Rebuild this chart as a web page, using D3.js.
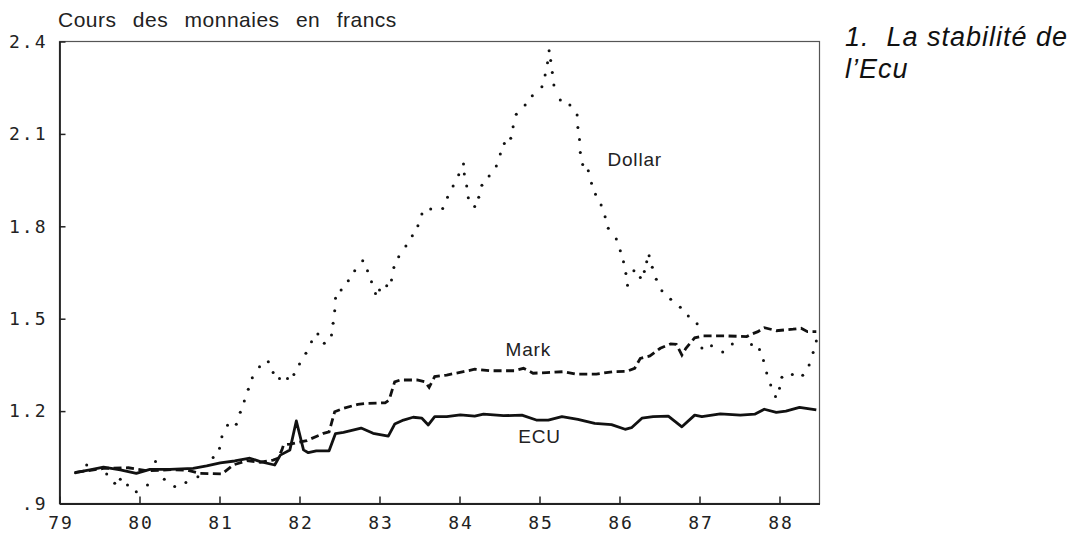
<!DOCTYPE html>
<html>
<head>
<meta charset="utf-8">
<script src="https://cdn.jsdelivr.net/npm/d3@7"></script>
<style>
  body { margin: 0; background: #fff; }
  svg { display: block; }
</style>
</head>
<body>
<div id="chart"></div>
<script>
// year (decimal) and rate in francs
const ecu = [
  [79.19, 1.0], [79.38, 1.009], [79.55, 1.018], [79.76, 1.009], [79.96, 0.998],
  [80.13, 1.011], [80.38, 1.011], [80.67, 1.014], [80.84, 1.022], [81.01, 1.032],
  [81.19, 1.038], [81.38, 1.047], [81.51, 1.036], [81.69, 1.025], [81.76, 1.057],
  [81.88, 1.074], [81.96, 1.168], [82.05, 1.074], [82.11, 1.065], [82.21, 1.071],
  [82.37, 1.071], [82.45, 1.127], [82.55, 1.131], [82.77, 1.145], [82.92, 1.128],
  [83.11, 1.119], [83.19, 1.158], [83.3, 1.171], [83.42, 1.18], [83.53, 1.177],
  [83.61, 1.155], [83.69, 1.182], [83.84, 1.182], [84.01, 1.188], [84.19, 1.184],
  [84.3, 1.19], [84.55, 1.185], [84.78, 1.187], [84.96, 1.171], [85.11, 1.171],
  [85.28, 1.182], [85.48, 1.173], [85.69, 1.16], [85.9, 1.156], [86.07, 1.141],
  [86.15, 1.146], [86.28, 1.177], [86.42, 1.182], [86.61, 1.184], [86.78, 1.149],
  [86.94, 1.187], [87.03, 1.182], [87.26, 1.191], [87.51, 1.187], [87.69, 1.19],
  [87.81, 1.206], [87.96, 1.196], [88.08, 1.2], [88.25, 1.212], [88.46, 1.204]
]

const mark = [
  [79.21, 1.001], [79.55, 1.014], [79.86, 1.016], [80.1, 1.006], [80.4, 1.01],
  [80.6, 1.008], [80.76, 0.998], [81.03, 0.996], [81.17, 1.025], [81.34, 1.039],
  [81.51, 1.034], [81.67, 1.041], [81.73, 1.047], [81.78, 1.074], [81.8, 1.09],
  [81.88, 1.093], [82.09, 1.104], [82.3, 1.128], [82.37, 1.133], [82.44, 1.198],
  [82.55, 1.209], [82.73, 1.222], [82.84, 1.225], [83.07, 1.227], [83.12, 1.236],
  [83.19, 1.295], [83.26, 1.301], [83.47, 1.301], [83.57, 1.295], [83.62, 1.277],
  [83.69, 1.312], [83.84, 1.317], [84.05, 1.328], [84.19, 1.336], [84.38, 1.331],
  [84.69, 1.331], [84.8, 1.339], [84.92, 1.323], [85.09, 1.325], [85.3, 1.328],
  [85.46, 1.32], [85.71, 1.32], [85.92, 1.328], [86.09, 1.329], [86.19, 1.339],
  [86.26, 1.371], [86.38, 1.379], [86.51, 1.404], [86.64, 1.418], [86.71, 1.417],
  [86.78, 1.382], [86.83, 1.404], [86.94, 1.438], [87.05, 1.444], [87.34, 1.444],
  [87.59, 1.442], [87.65, 1.45], [87.73, 1.458], [87.81, 1.471], [87.96, 1.461],
  [88.17, 1.466], [88.27, 1.469], [88.35, 1.458], [88.46, 1.458]
]

const dollar = [
  [79.2, 1.0], [79.34, 1.025], [79.59, 0.996], [79.69, 0.966], [79.76, 0.979],
  [79.85, 0.96], [79.96, 0.938], [80.1, 0.96], [80.2, 1.036], [80.31, 0.979],
  [80.44, 0.955], [80.58, 0.968], [80.73, 0.987], [80.92, 1.049], [81.0, 1.079],
  [81.03, 1.117], [81.1, 1.154], [81.21, 1.157], [81.26, 1.196], [81.31, 1.233],
  [81.36, 1.271], [81.41, 1.308], [81.5, 1.344], [81.61, 1.36], [81.67, 1.325],
  [81.75, 1.306], [81.85, 1.306], [81.93, 1.319], [82.0, 1.353], [82.08, 1.388],
  [82.15, 1.425], [82.23, 1.45], [82.31, 1.42], [82.4, 1.447], [82.42, 1.485],
  [82.44, 1.526], [82.45, 1.566], [82.52, 1.593], [82.61, 1.623], [82.69, 1.656],
  [82.79, 1.688], [82.85, 1.656], [82.9, 1.62], [82.95, 1.582], [83.0, 1.593],
  [83.09, 1.607], [83.15, 1.626], [83.18, 1.666], [83.24, 1.701], [83.33, 1.736],
  [83.41, 1.769], [83.48, 1.802], [83.53, 1.84], [83.64, 1.856], [83.79, 1.858],
  [83.85, 1.894], [83.92, 1.931], [83.99, 1.967], [84.05, 2.002], [84.06, 1.97],
  [84.09, 1.931], [84.11, 1.893], [84.19, 1.864], [84.24, 1.894], [84.28, 1.933],
  [84.37, 1.963], [84.46, 1.996], [84.51, 2.035], [84.56, 2.069], [84.64, 2.086],
  [84.67, 2.123], [84.71, 2.164], [84.82, 2.194], [84.91, 2.224], [85.03, 2.253],
  [85.07, 2.291], [85.1, 2.331], [85.12, 2.37], [85.14, 2.338], [85.16, 2.299],
  [85.18, 2.259], [85.26, 2.21], [85.38, 2.194], [85.47, 2.161], [85.48, 2.121],
  [85.5, 2.082], [85.51, 2.04], [85.54, 2.001], [85.61, 1.98], [85.65, 1.94],
  [85.7, 1.904], [85.77, 1.869], [85.82, 1.831], [85.86, 1.794], [85.96, 1.759],
  [86.01, 1.721], [86.05, 1.685], [86.08, 1.647], [86.1, 1.609], [86.18, 1.656],
  [86.26, 1.634], [86.31, 1.653], [86.34, 1.685], [86.37, 1.704], [86.41, 1.667],
  [86.46, 1.628], [86.53, 1.591], [86.64, 1.563], [86.76, 1.537], [86.86, 1.509],
  [86.97, 1.484], [87.03, 1.405], [87.15, 1.412], [87.29, 1.392], [87.41, 1.418],
  [87.65, 1.416], [87.75, 1.4], [87.8, 1.364], [87.84, 1.324], [87.89, 1.285],
  [87.95, 1.247], [88.0, 1.274], [88.03, 1.31], [88.16, 1.319], [88.29, 1.316],
  [88.37, 1.35], [88.42, 1.39], [88.46, 1.428]
]

const xTicks = [79, 80, 81, 82, 83, 84, 85, 86, 87, 88]
const xTickLabels = ['79', '80', '81', '82', '83', '84', '85', '86', '87', '88']
const yTicks = [0.9, 1.2, 1.5, 1.8, 2.1, 2.4]
const yTickLabels = ['.9', '1.2', '1.5', '1.8', '2.1', '2.4']

// where each series name sits (year, rate of its baseline)
const seriesLabels = [
  { text: 'Dollar', t: 86.19, v: 1.996 },
  { text: 'Mark', t: 84.86, v: 1.379 },
  { text: 'ECU', t: 85.0, v: 1.096 }
]

const width = 1091
const height = 534

const svg = d3.select('#chart')
  .append('svg')
    .attr('width', width)
    .attr('height', height)

const x = d3.scaleLinear()
  .domain([79, 88.5])
  .range([59.5, 819.5])

const y = d3.scaleLinear()
  .domain([0.9, 2.4])
  .range([503.5, 41.5])

const MONO = "'DejaVu Sans Mono', monospace"
const SANS = "'Liberation Sans', Arial, sans-serif"

// frame: top and right lighter, like the scanned original
svg.append('rect')
  .attr('x', x.range()[0])
  .attr('y', y.range()[1])
  .attr('width', x.range()[1] - x.range()[0])
  .attr('height', y.range()[0] - y.range()[1])
  .attr('fill', 'none')
  .attr('stroke', '#555')
  .attr('stroke-width', 1.2)

// x axis, ticks pointing inside
const xAxis = svg.append('g')
  .attr('transform', `translate(0,${y.range()[0]})`)
  .call(d3.axisBottom(x)
    .tickValues(xTicks)
    .tickFormat((d, i) => xTickLabels[i])
    .tickSize(-7)
    .tickSizeOuter(0)
    .tickPadding(13))
xAxis.select('.domain').attr('stroke', '#222').attr('stroke-width', 1.8)
xAxis.selectAll('.tick line').attr('stroke', '#222').attr('stroke-width', 1.5)
xAxis.selectAll('.tick text')
  .attr('font-family', MONO)
  .attr('font-size', 18)
  .attr('letter-spacing', 2)
  .attr('dx', 1)
  .attr('fill', '#222')

const yAxis = svg.append('g')
  .attr('transform', `translate(${x.range()[0]},0)`)
  .call(d3.axisLeft(y)
    .tickValues(yTicks)
    .tickFormat((d, i) => yTickLabels[i])
    .tickSize(-6)
    .tickSizeOuter(0)
    .tickPadding(12))
yAxis.select('.domain').attr('stroke', '#222').attr('stroke-width', 1.8)
yAxis.selectAll('.tick line').attr('stroke', '#222').attr('stroke-width', 1.5)
yAxis.selectAll('.tick text')
  .attr('font-family', MONO)
  .attr('font-size', 18)
  .attr('letter-spacing', 2)
  .attr('fill', '#222')

const line = d3.line()
  .x(d => x(d[0]))
  .y(d => y(d[1]))

svg.append('path')
  .datum(mark)
  .attr('d', line)
  .attr('fill', 'none')
  .attr('stroke', '#111')
  .attr('stroke-width', 2.8)
  .attr('stroke-dasharray', '8,4.5')

svg.append('path')
  .datum(ecu)
  .attr('d', line)
  .attr('fill', 'none')
  .attr('stroke', '#111')
  .attr('stroke-width', 2.8)
  .attr('stroke-linejoin', 'round')

svg.append('g')
  .selectAll('circle')
  .data(dollar)
  .join('circle')
    .attr('cx', d => x(d[0]))
    .attr('cy', d => y(d[1]))
    .attr('r', 1.5)
    .attr('fill', '#111')

svg.append('g')
  .selectAll('text')
  .data(seriesLabels)
  .join('text')
    .attr('x', d => x(d.t))
    .attr('y', d => y(d.v))
    .attr('text-anchor', 'middle')
    .attr('font-family', SANS)
    .attr('font-size', 19)
    .attr('letter-spacing', 0.8)
    .attr('fill', '#222')
    .text(d => d.text)

svg.append('text')
  .attr('x', 58)
  .attr('y', 27)
  .attr('font-family', SANS)
  .attr('font-size', 21)
  .attr('letter-spacing', 0.5)
  .attr('word-spacing', 10)
  .attr('fill', '#222')
  .text('Cours des monnaies en francs')

// heading to the right of the plot, two lines
const heading = svg.append('g')
  .attr('font-family', SANS)
  .attr('font-style', 'italic')
  .attr('font-size', 27)
  .attr('letter-spacing', 1)
  .attr('fill', '#111')
heading.append('text').attr('x', 845).attr('y', 46).attr('xml:space', 'preserve').text('1.  La stabilité de')
heading.append('text').attr('x', 845).attr('y', 78).text('l’Ecu')
</script>
</body>
</html>
